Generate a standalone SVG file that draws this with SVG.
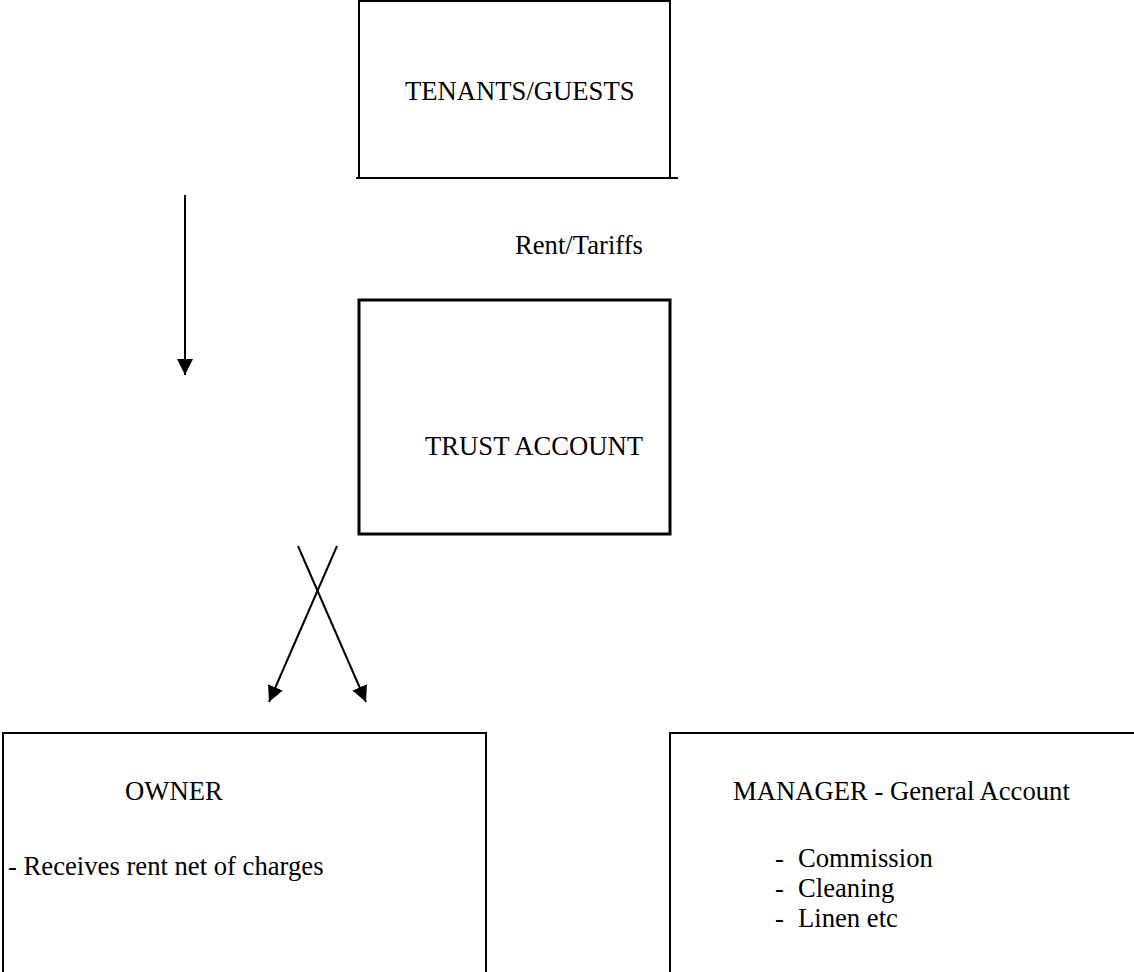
<svg xmlns="http://www.w3.org/2000/svg" width="1134" height="972" viewBox="0 0 1134 972">
<style>
text{font-family:"Liberation Serif","Times New Roman",serif;font-size:26.67px;fill:#000}
.box{fill:none;stroke:#000;stroke-width:2}
.conn{stroke:#000;stroke-width:2;fill:none}
</style>
<defs>
<marker id="ah" markerUnits="userSpaceOnUse" markerWidth="16" markerHeight="16" viewBox="0 0 16 16" refX="16" refY="8" orient="auto">
<path d="M0,0 L16,8 L0,16 Z" fill="#000"/>
</marker>
</defs>
<rect width="1134" height="972" fill="#fff"/>
<g id="tenants">
<path class="box" d="M359,178 V1 H670 V178"/>
<line x1="356" y1="178" x2="678" y2="178" stroke="#000" stroke-width="2"/>
<text x="405" y="100">TENANTS/GUESTS</text>
</g>
<g id="trust">
<rect x="359" y="300" width="311" height="234" fill="none" stroke="#000" stroke-width="3"/>
<text x="425" y="455">TRUST ACCOUNT</text>
</g>
<g id="owner">
<rect class="box" x="3" y="733" width="483" height="260"/>
<text x="125" y="800">OWNER</text>
<text x="8" y="875">- Receives rent net of charges</text>
</g>
<g id="manager">
<rect class="box" x="670" y="733" width="480" height="260"/>
<text x="733" y="800">MANAGER - General Account</text>
<text x="775" y="867">-</text><text x="798" y="867">Commission</text>
<text x="775" y="897">-</text><text x="798" y="897">Cleaning</text>
<text x="775" y="927">-</text><text x="798" y="927">Linen etc</text>
</g>
<g id="connectors">
<line class="conn" x1="185" y1="195" x2="185" y2="375" marker-end="url(#ah)"/>
<text x="515" y="254">Rent/Tariffs</text>
<line class="conn" x1="298" y1="546" x2="366" y2="702" marker-end="url(#ah)"/>
<line class="conn" x1="337" y1="546" x2="269" y2="702" marker-end="url(#ah)"/>
</g>
</svg>
